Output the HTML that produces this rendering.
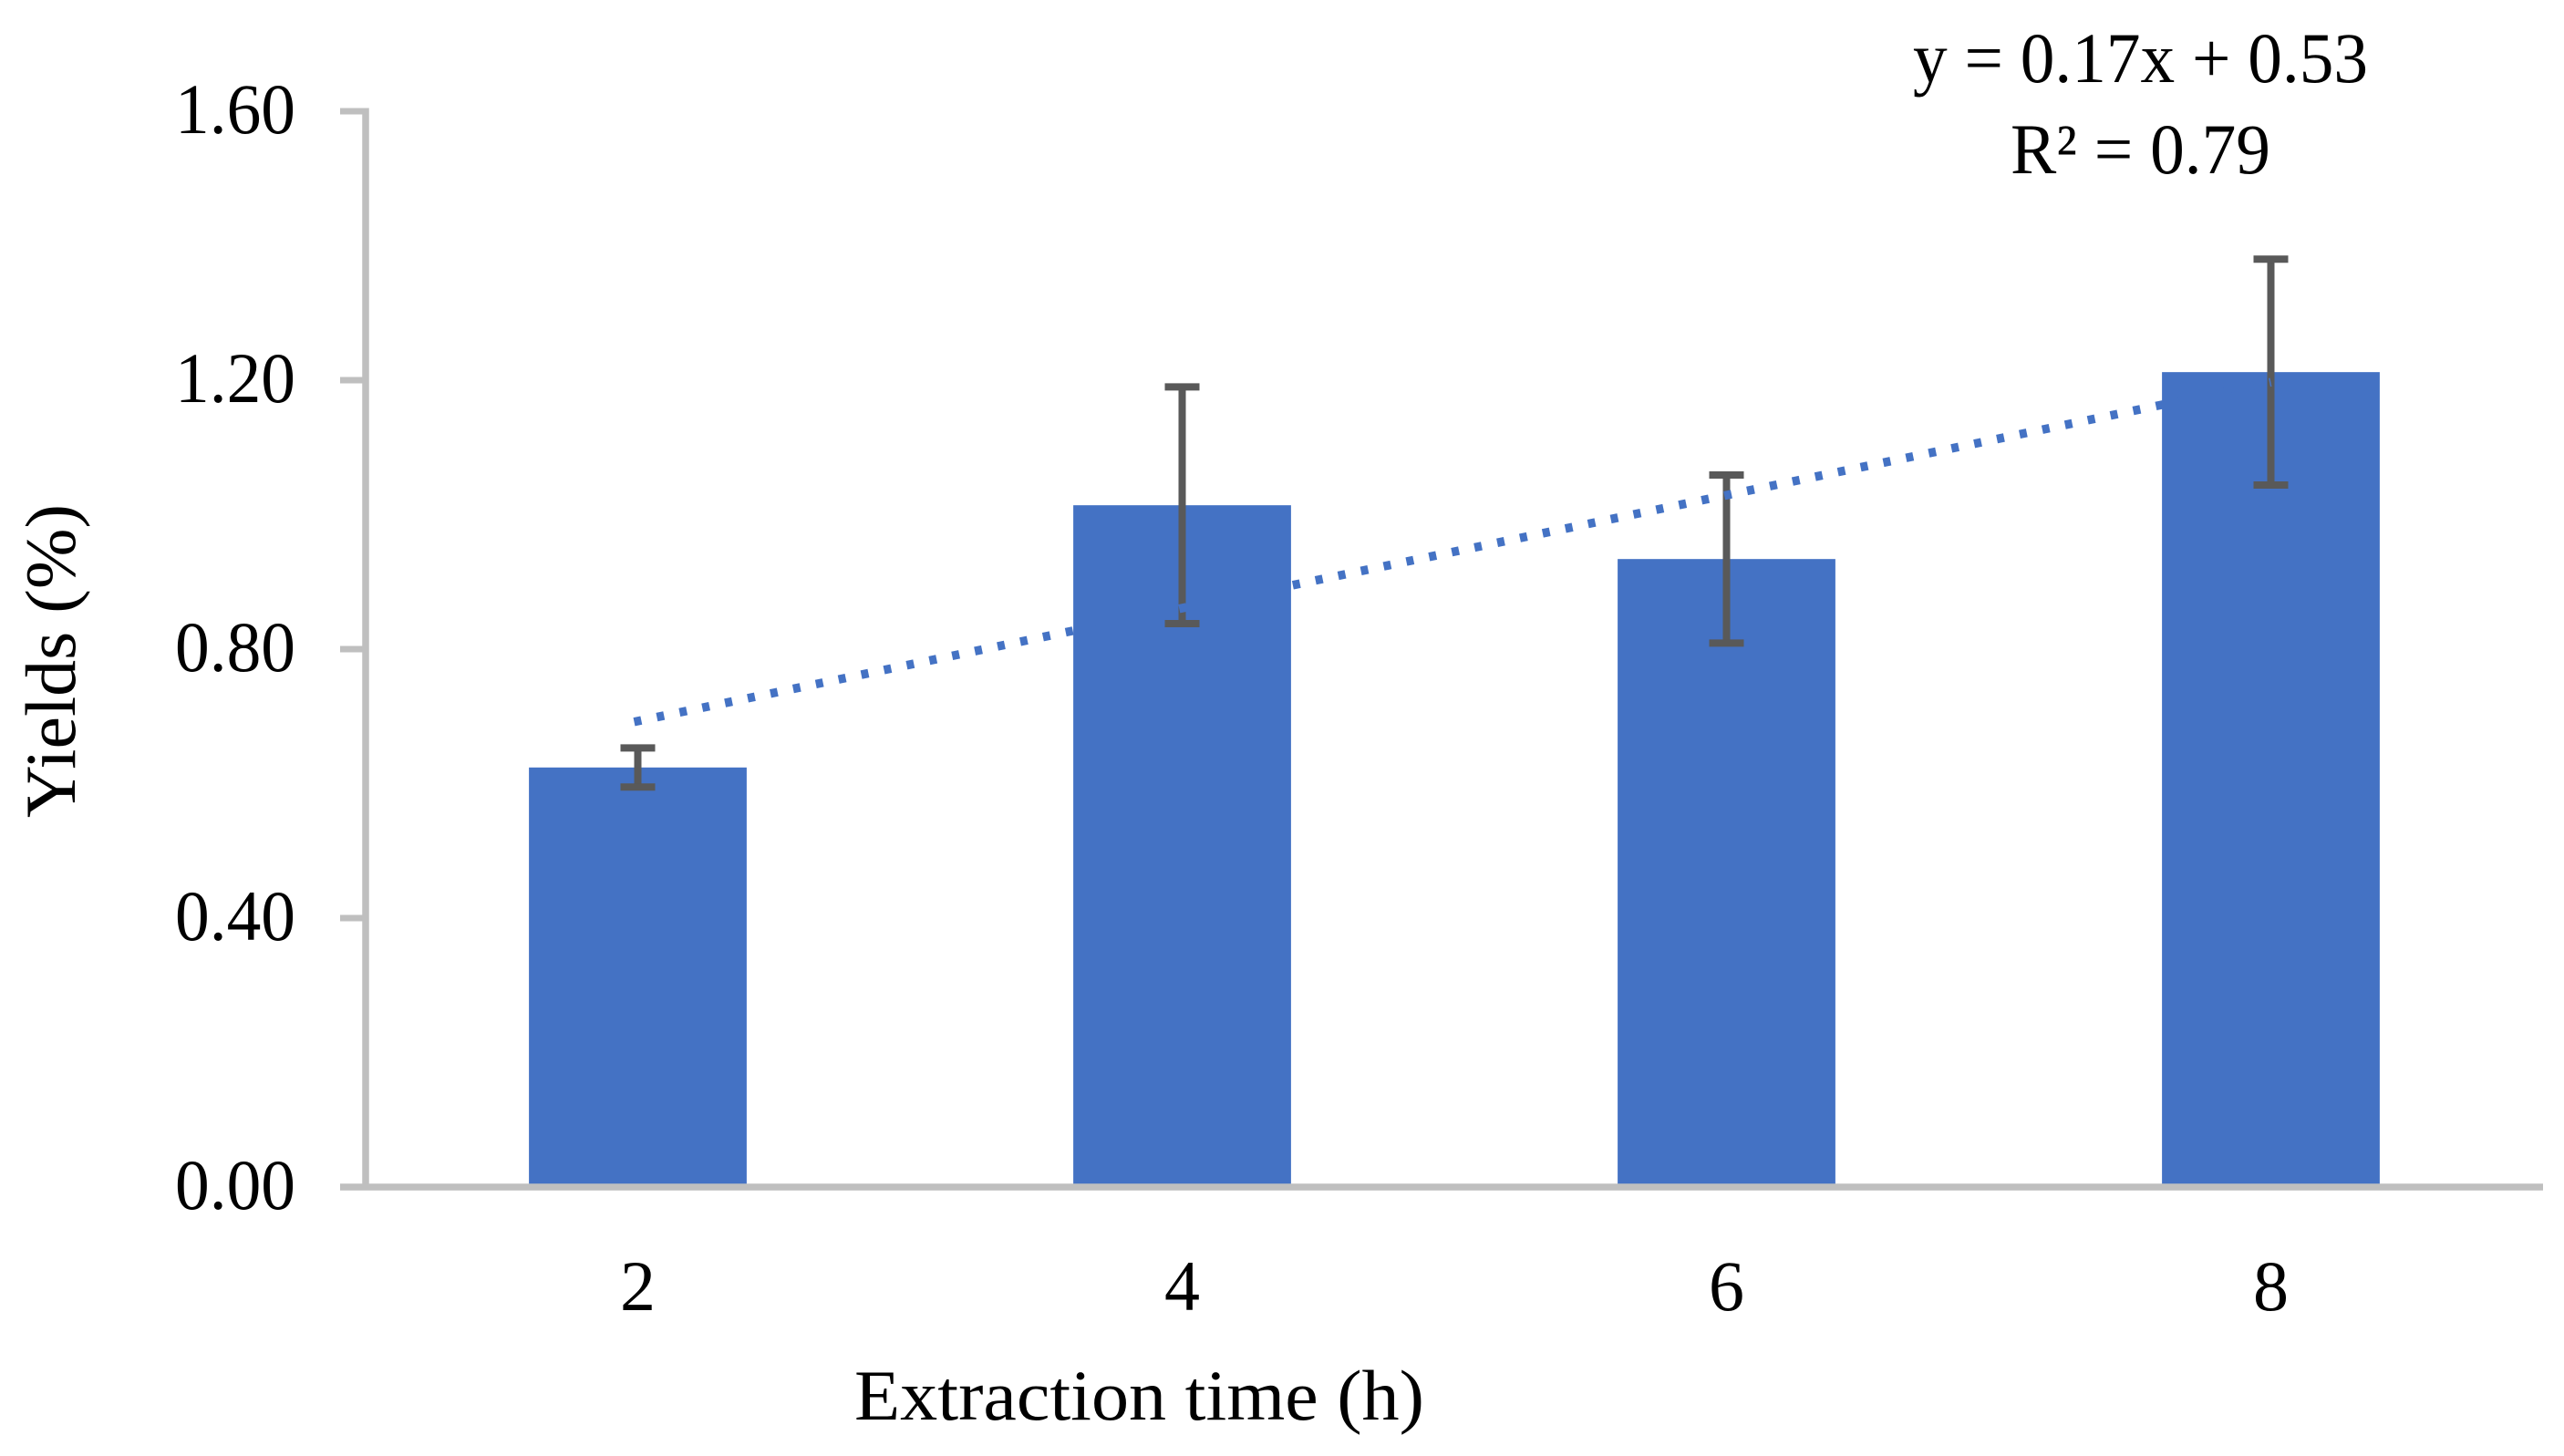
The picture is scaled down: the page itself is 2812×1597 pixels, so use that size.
<!DOCTYPE html>
<html lang="en">
<head>
<meta charset="utf-8">
<title>Yields by extraction time</title>
<style>
  html, body { margin: 0; padding: 0; background: #ffffff; }
  svg { display: block; }
  text { font-family: "Liberation Serif", serif; fill: #000000; }
</style>
</head>
<body>
<svg id="chart" xmlns="http://www.w3.org/2000/svg" width="2812" height="1597" viewBox="0 0 2812 1597">
  <rect x="0" y="0" width="2812" height="1597" fill="#ffffff"></rect>
  <g id="bars"></g>
  <g id="errors"></g>
  <g id="axes"></g>
  <g id="trend"></g>
  <text transform="translate(82 897) rotate(-90)" font-size="78" textLength="344" lengthAdjust="spacingAndGlyphs">Yields (%)</text>
  <text x="937" y="1557" font-size="78" textLength="625" lengthAdjust="spacingAndGlyphs">Extraction time (h)</text>
  <text x="2098" y="90" font-size="78" textLength="499" lengthAdjust="spacingAndGlyphs">y = 0.17x + 0.53</text>
  <text x="2205" y="190" font-size="78" textLength="285" lengthAdjust="spacingAndGlyphs">R² = 0.79</text>
</svg>
<script>
const categories = ['2', '4', '6', '8'];
const yieldValues = [0.624, 1.014, 0.934, 1.212];
const errorValues = [0.029, 0.176, 0.125, 0.168];
const yTickLabels = ['0.00', '0.40', '0.80', '1.20', '1.60'];
const trendSlope = 0.168;
const trendIntercept = 0.525;

const SVG_NS = 'http://www.w3.org/2000/svg';
const plotLeft = 401;
const plotRight = 2789;
const plotTop = 122;
const plotBottom = 1302;
const yMax = 1.6;
const barRatio = 0.4;
const bandWidth = (plotRight - plotLeft) / categories.length;

function xScale(index) {
  return plotLeft + bandWidth * (index + 0.5);
}
function yScale(value) {
  return plotBottom - (value / yMax) * (plotBottom - plotTop);
}
function make(tag, attrs, parent) {
  const node = document.createElementNS(SVG_NS, tag);
  for (const key in attrs) {
    node.setAttribute(key, attrs[key]);
  }
  parent.appendChild(node);
  return node;
}

const barsGroup = document.getElementById('bars');
const errorsGroup = document.getElementById('errors');
const axesGroup = document.getElementById('axes');
const trendGroup = document.getElementById('trend');

yieldValues.forEach(function (value, i) {
  const barWidth = bandWidth * barRatio;
  const bar = make('rect', {
    x: xScale(i) - barWidth / 2,
    y: yScale(value),
    width: barWidth,
    height: plotBottom - yScale(value),
    fill: '#4472c4'
  }, barsGroup);
  
  

  const cx = xScale(i);
  const hi = yScale(value + errorValues[i]);
  const lo = yScale(value - errorValues[i]);
  const stem = make('line', { x1: cx, x2: cx, y1: hi, y2: lo, stroke: '#595959', 'stroke-width': 8 }, errorsGroup);
  
  
  const capTop = make('line', { x1: cx - 19, x2: cx + 19, y1: hi, y2: hi, stroke: '#595959', 'stroke-width': 8 }, errorsGroup);
  
  
  const capBottom = make('line', { x1: cx - 19, x2: cx + 19, y1: lo, y2: lo, stroke: '#595959', 'stroke-width': 8 }, errorsGroup);
  
  

  const label = make('text', { x: cx, y: plotBottom + 135, 'font-size': 78, 'text-anchor': 'middle' }, axesGroup);
  label.textContent = categories[i];
  
  
});

const yAxisLine = make('line', { x1: plotLeft, x2: plotLeft, y1: plotTop - 3.5, y2: plotBottom, stroke: '#bfbfbf', 'stroke-width': 7.5 }, axesGroup);



const xAxisLine = make('line', { x1: 373, x2: plotRight, y1: plotBottom, y2: plotBottom, stroke: '#bfbfbf', 'stroke-width': 7.5 }, axesGroup);



yTickLabels.forEach(function (labelText) {
  const y = yScale(parseFloat(labelText));
  const tick = make('line', { x1: 373, x2: plotLeft, y1: y, y2: y, stroke: '#bfbfbf', 'stroke-width': 7 }, axesGroup);
  
  
  const label = make('text', { x: 192, y: y + 24, 'font-size': 78, textLength: 132, lengthAdjust: 'spacingAndGlyphs' }, axesGroup);
  label.textContent = labelText;
  
  
});

const lastIndex = categories.length - 1;
const trendStart = -4 / bandWidth;
const trendLine = make('line', {
  x1: xScale(trendStart),
  y1: yScale(trendIntercept + trendSlope * (trendStart + 1)),
  x2: xScale(lastIndex),
  y2: yScale(trendIntercept + trendSlope * (lastIndex + 1)),
  stroke: '#4472c4',
  'stroke-width': 9.5,
  'stroke-dasharray': '8 17.44'
}, trendGroup);


</script>
</body>
</html>
